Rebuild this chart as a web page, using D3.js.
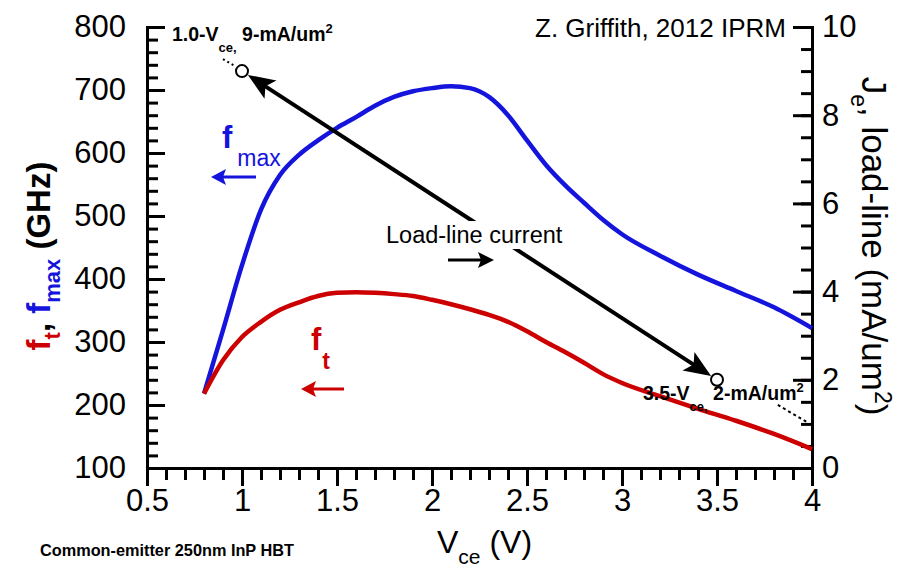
<!DOCTYPE html>
<html>
<head>
<meta charset="utf-8">
<script src="https://cdn.jsdelivr.net/npm/d3@7"></script>
<style>
  html, body { margin: 0; padding: 0; background: #fff; }
  svg { display: block; }
  text { font-family: "Liberation Sans", Arial, Helvetica, sans-serif; }
</style>
</head>
<body>
<svg id="chart" width="905" height="571"></svg>
<script>
// Collector-emitter bias sweep (V)
const vce = [0.8, 0.9, 1.0, 1.1, 1.2, 1.3, 1.4, 1.5, 1.6, 1.7, 1.8, 1.9, 2.0,
             2.1, 2.2, 2.3, 2.4, 2.5, 2.6, 2.7, 2.8, 2.9, 3.0, 3.2, 3.4, 3.6, 3.8, 4.0];
// Maximum oscillation frequency (GHz)
const fmax = [218, 319, 422, 510, 565, 597, 620, 640, 657, 675, 689, 698, 703,
              706, 703, 689, 660, 620, 581, 549, 521, 494, 471, 437, 407, 381, 355, 322];
// Current-gain cutoff frequency (GHz)
const ft = [218, 271, 308, 332, 351, 363, 373, 378, 379, 378, 376, 373, 367,
            360, 352, 343, 332, 317, 300, 284, 267, 249, 235, 214, 194, 175, 154, 130];

// Load-line end points: V_ce (V) and J_e (mA/um^2)
const loadLineV = [1.0, 3.5];
const loadLineJ = [9, 2];
// Dotted continuations beyond the end points
const extTopV = [0.9, 0.96];
const extTopJ = [9.27, 9.12];
const extBotV = [3.82, 3.97];
const extBotJ = [1.43, 1.05];

// Axis ticks
const xTicks = [0.5, 1, 1.5, 2, 2.5, 3, 3.5, 4];
const xTickLabels = ["0.5", "1", "1.5", "2", "2.5", "3", "3.5", "4"];
const xMinorTicks = d3.range(5, 41).map(d => d / 10);
const yLeftTicks = [100, 200, 300, 400, 500, 600, 700, 800];
const yLeftMinorTicks = d3.range(100, 801, 20);
const yRightTicks = [0, 2, 4, 6, 8, 10];
const yRightTickLabels = ["0", "2", "4", "6", "8", "10"];
const yRightMinorTicks = d3.range(0, 10.01, 0.5);

const BLUE = "#1414dc";
const RED = "#cc0000";

const svg = d3.select("#chart");
const plotLeft = 147, plotRight = 812, plotTop = 27, plotBottom = 468;

const x = d3.scaleLinear().domain([0.5, 4]).range([plotLeft, plotRight]);
const yL = d3.scaleLinear().domain([100, 800]).range([plotBottom, plotTop]);
const yR = d3.scaleLinear().domain([0, 10]).range([plotBottom, plotTop]);

function styleAxis(g) {
  g.selectAll("path.domain").attr("stroke", "#000").attr("stroke-width", 3).attr("stroke-linecap", "square");
  g.selectAll(".tick line").attr("stroke", "#000").attr("stroke-width", 3);
  g.selectAll(".tick text").attr("fill", "#000").attr("font-size", 31)
    .attr("font-family", '"Liberation Sans", Arial, sans-serif');
}

// Bottom axis (ticks point outward)
svg.append("g").attr("transform", `translate(0,${plotBottom})`)
  .call(d3.axisBottom(x).tickValues(xMinorTicks).tickSizeInner(12).tickSizeOuter(0).tickFormat(""))
  .call(styleAxis);
svg.append("g").attr("transform", `translate(0,${plotBottom})`)
  .call(d3.axisBottom(x).tickValues(xTicks).tickSizeInner(18).tickSizeOuter(0).tickPadding(3)
        .tickFormat((d, i) => xTickLabels[i]))
  .call(styleAxis);

// Left axis (ticks point inward)
svg.append("g").attr("transform", `translate(${plotLeft},0)`)
  .call(d3.axisLeft(yL).tickValues(yLeftMinorTicks).tickSizeInner(-11).tickSizeOuter(0).tickFormat(""))
  .call(styleAxis);
svg.append("g").attr("transform", `translate(${plotLeft},0)`)
  .call(d3.axisLeft(yL).tickValues(yLeftTicks).tickSizeInner(-18).tickSizeOuter(0).tickPadding(21)
        .tickFormat(d3.format("d")))
  .call(styleAxis);

// Right axis (ticks point inward)
svg.append("g").attr("transform", `translate(${plotRight},0)`)
  .call(d3.axisRight(yR).tickValues(yRightMinorTicks).tickSizeInner(-11).tickSizeOuter(0).tickFormat(""))
  .call(styleAxis);
svg.append("g").attr("transform", `translate(${plotRight},0)`)
  .call(d3.axisRight(yR).tickValues(yRightTicks).tickSizeInner(-19).tickSizeOuter(0).tickPadding(10)
        .tickFormat((d, i) => yRightTickLabels[i]))
  .call(styleAxis);

// Frequency curves
const line = d3.line().x(d => x(d[0])).y(d => yL(d[1])).curve(d3.curveMonotoneX);
svg.append("path").datum(vce.map((v, i) => [v, fmax[i]]))
  .attr("d", line).attr("fill", "none").attr("stroke", BLUE).attr("stroke-width", 4.5)
  .attr("stroke-linejoin", "round");
svg.append("path").datum(vce.map((v, i) => [v, ft[i]]))
  .attr("d", line).attr("fill", "none").attr("stroke", RED).attr("stroke-width", 4.5)
  .attr("stroke-linejoin", "round");

// Arrow helper: shaft from p to q with a barbed head at q
function arrow(g, p, q, opts) {
  const { color = "#000", width = 3, len = 14, half = 8, notch = 3, gap = 0 } = opts || {};
  const dx = q[0] - p[0], dy = q[1] - p[1];
  const L = Math.hypot(dx, dy);
  const ux = dx / L, uy = dy / L, nx = -uy, ny = ux;
  const tip = [q[0] - ux * gap, q[1] - uy * gap];
  const base = [tip[0] - ux * len, tip[1] - uy * len];
  g.append("line")
    .attr("x1", p[0]).attr("y1", p[1])
    .attr("x2", base[0] + ux * (notch + 1)).attr("y2", base[1] + uy * (notch + 1))
    .attr("stroke", color).attr("stroke-width", width);
  const pts = [
    tip,
    [base[0] + nx * half, base[1] + ny * half],
    [base[0] + ux * notch, base[1] + uy * notch],
    [base[0] - nx * half, base[1] - ny * half]
  ];
  g.append("path").attr("d", "M" + pts.map(d => d.join(",")).join("L") + "Z").attr("fill", color);
}

// Load line with dotted continuations and end markers
const ll = svg.append("g");
const lineR = d3.line().x(d => x(d[0])).y(d => yR(d[1]));
ll.append("path").datum(extTopV.map((v, i) => [v, extTopJ[i]])).attr("d", lineR)
  .attr("stroke", "#000").attr("stroke-width", 2).attr("stroke-dasharray", "2,3").attr("fill", "none");
ll.append("path").datum(extBotV.map((v, i) => [v, extBotJ[i]])).attr("d", lineR)
  .attr("stroke", "#000").attr("stroke-width", 2).attr("stroke-dasharray", "3,3").attr("fill", "none");

const p1 = [x(loadLineV[0]), yR(loadLineJ[0])];
const p2 = [x(loadLineV[1]), yR(loadLineJ[1])];
const mid = [(p1[0] + p2[0]) / 2, (p1[1] + p2[1]) / 2];
arrow(ll, mid, p1, { width: 4, len: 27, half: 11, notch: 6, gap: 7 });
arrow(ll, mid, p2, { width: 4, len: 27, half: 11, notch: 6, gap: 7 });
ll.selectAll("circle.end").data([p1, p2]).join("circle")
  .attr("class", "end").attr("cx", d => d[0]).attr("cy", d => d[1]).attr("r", 6)
  .attr("fill", "none").attr("stroke", "#000").attr("stroke-width", 2);

// "Load-line current" label sits on a white patch over the load line
const llLabel = svg.append("g");
const llText = llLabel.append("text").attr("x", 386).attr("y", 243).attr("font-size", 23.5)
  .attr("fill", "#000").text("Load-line current");
const bb = llText.node().getBBox();
llLabel.insert("rect", "text").attr("x", bb.x - 2).attr("y", bb.y - 1)
  .attr("width", bb.width + 4).attr("height", bb.height + 2).attr("fill", "#fff");
arrow(svg, [448, 260], [494, 260], { width: 3, len: 16, half: 8, notch: 3 });

// End-point annotations
function annot(xp, yp, main, sub, rest) {
  const t = svg.append("text").attr("x", xp).attr("y", yp).attr("font-size", 19.5)
    .attr("font-weight", "bold").attr("fill", "#000");
  t.append("tspan").text(main);
  t.append("tspan").attr("dy", 11).attr("font-size", 13).text(sub);
  t.append("tspan").attr("dy", -11).text(rest);
  t.append("tspan").attr("dy", -8).attr("font-size", 13).text("2");
}
annot(172, 41, "1.0-V", "ce,", " 9-mA/um");
annot(643, 400, "3.5-V", "ce,", " 2-mA/um");

// Series markers: f_max and f_t with arrows pointing to the left axis
const fmaxLbl = svg.append("text").attr("x", 222).attr("y", 148).attr("fill", BLUE);
fmaxLbl.append("tspan").attr("font-size", 31).attr("font-weight", "bold").text("f");
fmaxLbl.append("tspan").attr("dy", 18).attr("dx", 5).attr("font-size", 23).text("max");
arrow(svg, [256, 177], [211, 177], { color: BLUE, width: 3, len: 15, half: 8, notch: 3 });

const ftLbl = svg.append("text").attr("x", 311).attr("y", 350).attr("fill", RED);
ftLbl.append("tspan").attr("font-size", 31).attr("font-weight", "bold").text("f");
ftLbl.append("tspan").attr("dy", 19).attr("dx", 1).attr("font-size", 23).attr("font-weight", "bold").text("t");
arrow(svg, [344, 389], [301, 389], { color: RED, width: 3, len: 15, half: 8, notch: 3 });

// Left axis title
const yLt = svg.append("text").attr("transform", "translate(50,256) rotate(-90)")
  .attr("text-anchor", "middle").attr("font-size", 33).attr("font-weight", "bold");
yLt.append("tspan").attr("fill", RED).text("f");
yLt.append("tspan").attr("fill", RED).attr("dy", 10).attr("font-size", 22).text("t");
yLt.append("tspan").attr("fill", "#000").attr("dy", -10).text(", ");
yLt.append("tspan").attr("fill", BLUE).text("f");
yLt.append("tspan").attr("fill", BLUE).attr("dy", 10).attr("font-size", 22).text("max");
yLt.append("tspan").attr("fill", "#000").attr("dy", -10).text(" (GHz)");

// Right axis title
const yRt = svg.append("text").attr("transform", "translate(862,246) rotate(90)")
  .attr("text-anchor", "middle").attr("font-size", 35).attr("fill", "#000");
yRt.append("tspan").text("J");
yRt.append("tspan").attr("dy", 11).attr("font-size", 23).text("e");
yRt.append("tspan").attr("dy", -11).text(", load-line (mA/um");
yRt.append("tspan").attr("dy", -13).attr("font-size", 23).text("2");
yRt.append("tspan").attr("dy", 13).text(")");

// Bottom axis title
const xt = svg.append("text").attr("x", 437).attr("y", 553).attr("font-size", 32).attr("fill", "#000");
xt.append("tspan").text("V");
xt.append("tspan").attr("dy", 11).attr("font-size", 21).text("ce");
xt.append("tspan").attr("dy", -11).text(" (V)");

svg.append("text").attr("x", 40).attr("y", 556).attr("font-size", 16.3).attr("font-weight", "bold")
  .attr("fill", "#000").text("Common-emitter 250nm InP HBT");

// Source credit
svg.append("text").attr("x", 535).attr("y", 37).attr("font-size", 26)
  .attr("font-family", "Lato, 'Open Sans', sans-serif").attr("fill", "#000")
  .text("Z. Griffith, 2012 IPRM");
</script>
</body>
</html>
